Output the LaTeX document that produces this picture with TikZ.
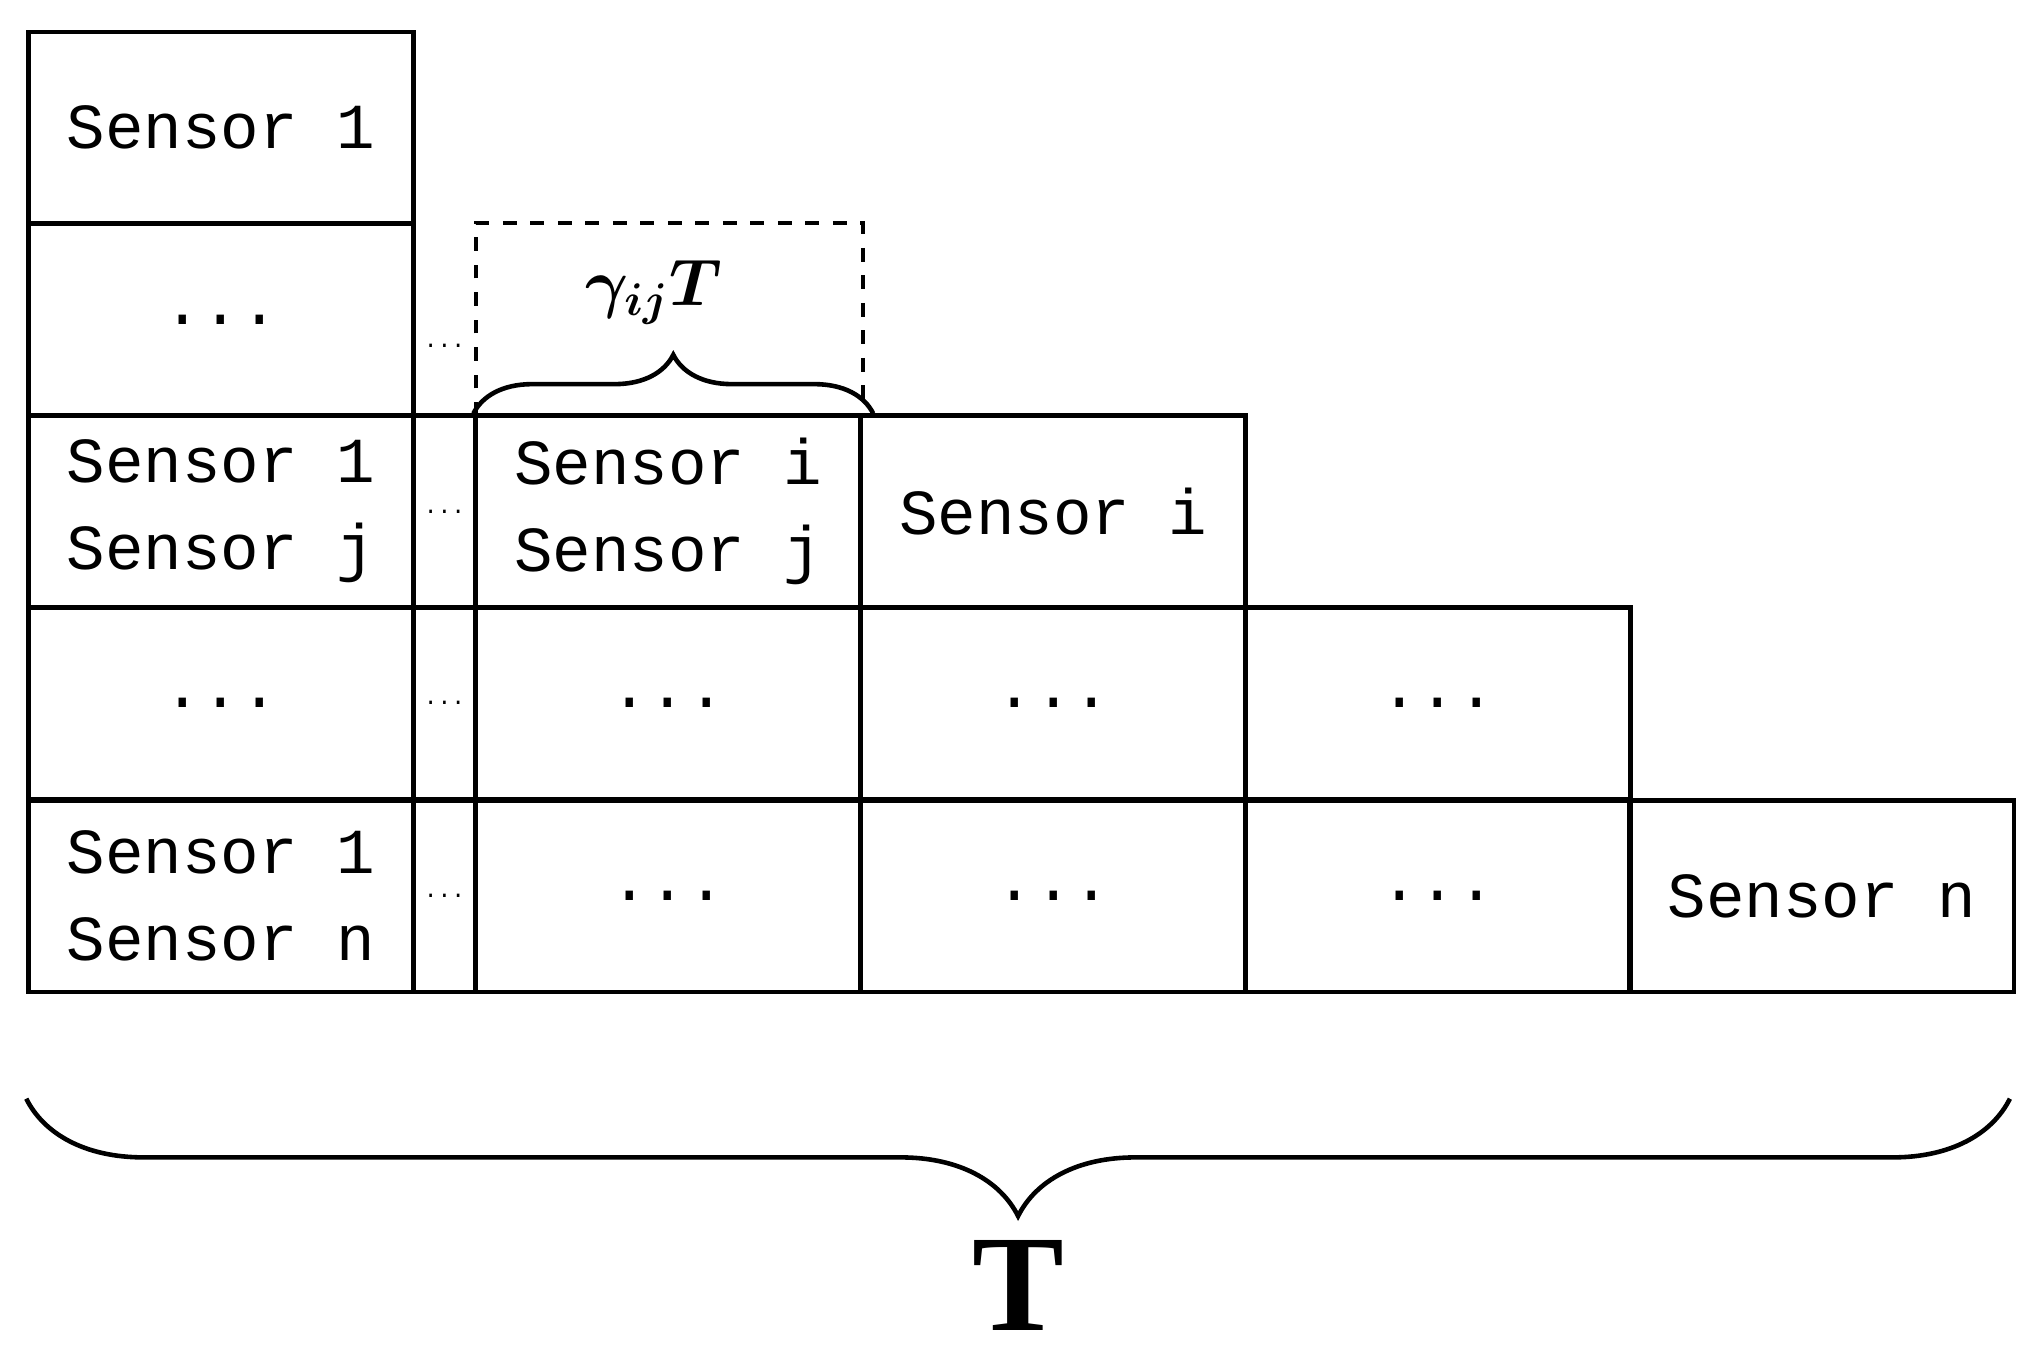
\documentclass[tikz,border=0pt]{standalone}
\usepackage{amsmath,bm}
\usepackage{fontspec}
\setmainfont{Liberation Mono}
\newfontfamily\serifbf{Liberation Serif}
\usetikzlibrary{decorations.pathreplacing}

\tikzset{
  cell/.style={draw, line width=1pt, minimum width=2.95cm, minimum height=1.47cm,
    inner sep=0pt, align=left, font=\fontsize{14}{19}\selectfont},
  gap/.style={cell, minimum width=0.48cm, font=\tiny},
  brace/.style={decorate, line width=1pt}
}

\begin{document}
\begin{tikzpicture}[x=0.01cm, y=0.01cm]
\useasboundingbox (0,0) rectangle (1568,-1046);

% Dashed window
\draw[dashed, line width=1pt] (365,-319) |- (662,-171) -- (662,-319);

% First column
\node[cell] (s1)   at (169.5,-98)  {Sensor 1};
\node[cell] (d1)   at (169.5,-245) {...};
\node[cell] (s1j)  at (169.5,-392.5) {Sensor 1\\Sensor j};
\node[cell] (d2)   at (169.5,-539.5) {...};
\node[cell] (s1n)  at (169.5,-687.5) {Sensor 1\\Sensor n};

% Gap column
\node[font=\tiny] (g0) at (341,-265) {...};
\node[gap] (g1) at (341,-392.5) {...};
\node[gap] (g2) at (341,-539.5) {...};
\node[gap] (g3) at (341,-687.5) {...};

% Remaining columns
\node[cell] (sij) at (512.5,-392.5) {Sensor i\\Sensor j};
\node[cell] (c3a) at (512.5,-539.5) {...};
\node[cell] (c3b) at (512.5,-687.5) {...};
\node[cell] (si)  at (808,-392.5) {Sensor i};
\node[cell] (c4a) at (808,-539.5) {...};
\node[cell] (c4b) at (808,-687.5) {...};
\node[cell] (c5a) at (1103,-539.5) {...};
\node[cell] (c5b) at (1103,-687.5) {...};
\node[cell] (sn)  at (1397.5,-687.5) {Sensor n};

% Braces
\draw[brace, decoration={brace, amplitude=0.45cm}]
  (sij.north west) -- ([xshift=0.08cm]sij.north east)
  node[midway, above=0.55cm, xshift=-0.15cm, font=\Large] {$\bm{\gamma_{ij}T}$};
\draw[brace, decoration={brace, mirror, amplitude=0.9cm}]
  ([yshift=-0.8cm]s1n.south west) -- ([yshift=-0.8cm, xshift=-0.05cm]sn.south east)
  node[midway, below=0.95cm, font=\fontsize{30}{30}\serifbf\bfseries] {T};
\end{tikzpicture}
\end{document}
